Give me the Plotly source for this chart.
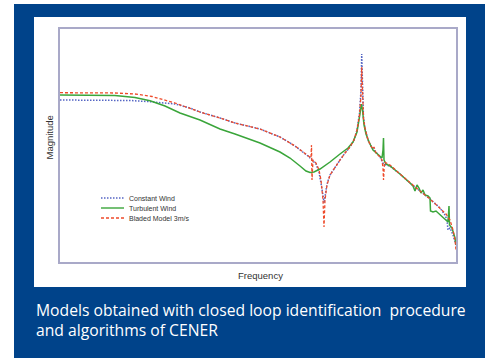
import plotly.graph_objects as go

# x: log-frequency (decades from start), y: magnitude (dB)
x_bladed = [0, 0.30, 0.55, 0.75, 0.92, 1.15, 1.40, 1.60, 1.75, 2.00, 2.20, 2.35, 2.43, 2.48, 2.51,
            2.515, 2.52, 2.53, 2.56, 2.59, 2.61, 2.63, 2.64, 2.65, 2.67, 2.70, 2.75, 2.80, 2.85,
            2.90, 2.94, 2.97, 2.995, 3.01, 3.017, 3.023, 3.035, 3.05, 3.08, 3.11, 3.13, 3.14,
            3.16, 3.20, 3.22, 3.23, 3.235, 3.245, 3.27, 3.30, 3.40, 3.50, 3.60, 3.70, 3.80,
            3.86, 3.90, 3.93, 3.95, 3.96]
y_bladed = [-31.85, -31.85, -32.0, -32.5, -33.75, -37.0, -41.5, -44.5, -47.0, -50.0, -54.0, -58.5,
            -61.5, -63.5, -64.5, -58.0, -75.5, -65.5, -67.0, -70.5, -75.5, -85.5, -99.0, -85.5,
            -78.0, -73.0, -69.0, -65.5, -62.0, -59.0, -55.5, -50.5, -43.0, -33.0, -19.0, -33.0,
            -44.5, -49.5, -55.5, -58.5, -60.0, -59.0, -62.0, -64.0, -65.5, -69.5, -75.5, -66.5,
            -67.0, -68.0, -72.5, -77.0, -81.0, -85.0, -89.5, -92.5, -95.5, -100.5, -105.5, -110.5]

x_constant = [0, 0.40, 0.70, 0.90, 1.15, 1.30, 1.40, 1.60, 1.75, 2.00, 2.20, 2.35, 2.43, 2.48,
              2.52, 2.56, 2.59, 2.61, 2.63, 2.64, 2.65, 2.67, 2.70, 2.75, 2.80, 2.85, 2.90, 2.94,
              2.97, 2.995, 3.01, 3.017, 3.023, 3.035, 3.05, 3.08, 3.11, 3.15, 3.20, 3.23, 3.26,
              3.30, 3.40, 3.50, 3.60, 3.70, 3.80, 3.85, 3.87, 3.88, 3.90, 3.93, 3.96]
y_constant = [-35.5, -35.5, -35.75, -36.35, -37.5, -39.5, -41.5, -44.5, -47.0, -50.0, -54.0, -58.5,
              -61.5, -63.5, -65.5, -67.5, -71.5, -76.5, -83.0, -87.0, -83.0, -77.5, -73.0, -69.0,
              -65.5, -62.0, -59.0, -55.5, -50.5, -42.0, -30.5, -12.5, -30.5, -44.5, -49.5, -55.5,
              -58.5, -61.0, -64.0, -67.0, -68.0, -68.5, -72.5, -77.0, -81.0, -85.0, -89.5, -93.0,
              -95.5, -100.5, -99.5, -103.0, -108.0]

x_turbulent = [0, 0.30, 0.55, 0.75, 0.90, 1.05, 1.20, 1.40, 1.60, 1.75, 2.00, 2.20, 2.30, 2.40,
               2.46, 2.50, 2.54, 2.60, 2.70, 2.80, 2.88, 2.93, 2.97, 2.99, 3.005, 3.015, 3.025,
               3.04, 3.06, 3.09, 3.13, 3.18, 3.22, 3.23, 3.235, 3.24, 3.26, 3.30, 3.40, 3.50,
               3.53, 3.55, 3.57, 3.59, 3.61, 3.63, 3.65, 3.68, 3.70, 3.705, 3.73, 3.76, 3.80,
               3.84, 3.88, 3.89, 3.895, 3.92, 3.95, 3.96]
y_turbulent = [-33.0, -33.0, -33.25, -34.25, -35.85, -38.5, -42.0, -45.5, -50.0, -52.5, -57.0, -61.5,
               -64.5, -68.5, -71.0, -71.75, -71.5, -70.0, -66.5, -62.5, -59.5, -56.5, -51.5, -45.5,
               -39.0, -37.5, -40.5, -48.0, -52.5, -56.5, -60.5, -63.0, -64.5, -60.5, -54.5, -65.5,
               -67.5, -68.5, -72.5, -77.0, -78.5, -81.0, -78.0, -79.5, -82.0, -80.5, -83.0, -83.5,
               -84.5, -91.0, -91.5, -91.0, -93.0, -94.5, -96.5, -88.5, -98.0, -99.5, -104.5, -108.0]

series_names = ["Constant Wind", "Turbulent Wind", "Bladed Model 3m/s"]
series_colors = ["#5566c4", "#3aa53a", "#ee4a2a"]
series_dash = ["1.5px,1.5px", "solid", "3px,2px"]
series_width = [1.5, 1.5, 1.3]

x_title = "Frequency"
y_title = "Magnitude"
caption = ["Models obtained with closed loop identification  procedure", "and algorithms of CENER"]

fig = go.Figure()
for name, xs, ys, c, d, w in zip(series_names,
                                 [x_constant, x_turbulent, x_bladed],
                                 [y_constant, y_turbulent, y_bladed],
                                 series_colors, series_dash, series_width):
    fig.add_trace(go.Scatter(x=xs, y=ys, mode="lines", name=name,
                             line=dict(color=c, dash=d, width=w), showlegend=False))

W, H = 488, 358
L, R, T, B = 60, 32, 29, 96
pw, ph = W - L - R, H - T - B


def px(xp):
    return (xp - L) / pw


def py(yp):
    return (H - B - yp) / ph


shapes = [
    dict(type="rect", xref="paper", yref="paper", x0=px(14), x1=px(485), y0=py(4), y1=py(360),
         fillcolor="#00438a", line=dict(width=0), layer="below"),
    dict(type="rect", xref="paper", yref="paper", x0=px(34), x1=px(466), y0=py(17), y1=py(287),
         fillcolor="white", line=dict(width=0), layer="below"),
]
annotations = []
leg_y = [198, 208, 218]
for name, c, d, yy in zip(series_names, series_colors, series_dash, leg_y):
    shapes.append(dict(type="line", xref="paper", yref="paper", x0=px(101), x1=px(124),
                       y0=py(yy), y1=py(yy), line=dict(color=c, dash=d, width=1.4)))
    annotations.append(dict(text=name, xref="paper", yref="paper", x=px(127), y=py(yy),
                            xanchor="left", yanchor="middle", showarrow=False,
                            font=dict(family="Liberation Sans", size=7, color="#333")))

annotations.append(dict(text=x_title, xref="paper", yref="paper", x=px(260), y=py(275),
                        xanchor="center", yanchor="middle", showarrow=False,
                        font=dict(family="Liberation Sans", size=9.5, color="#333")))
annotations.append(dict(text=y_title, xref="paper", yref="paper", x=px(49), y=py(137.5),
                        xanchor="center", yanchor="middle", showarrow=False, textangle=-90,
                        font=dict(family="Liberation Sans", size=9.5, color="#333")))
annotations.append(dict(text="<br>".join(caption), xref="paper", yref="paper", x=px(34), y=py(320),
                        xanchor="left", yanchor="middle", align="left", showarrow=False,
                        font=dict(family="Open Sans", size=15.7, color="white")))

axis_common = dict(showline=True, mirror=True, linecolor="#a9a9c8", linewidth=1.5,
                   showticklabels=False, ticks="", showgrid=False, zeroline=False)
fig.update_layout(
    width=W, height=H, margin=dict(l=L, r=R, t=T, b=B),
    paper_bgcolor="white", plot_bgcolor="rgba(0,0,0,0)",
    xaxis=dict(range=[0, 3.96], **axis_common),
    yaxis=dict(range=[-116.5, 0], **axis_common),
    shapes=shapes, annotations=annotations,
)
fig.write_html("out.html", config={"displayModeBar": False},
               post_script="document.body.style.margin='0';")
